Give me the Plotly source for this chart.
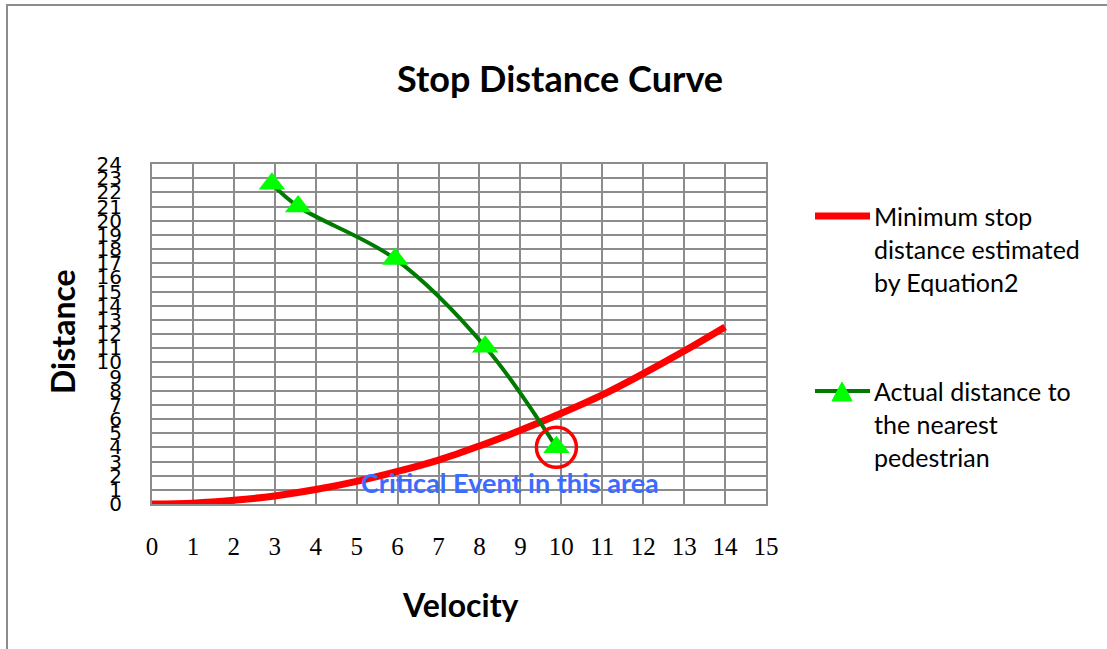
import plotly.graph_objects as go

# ---- data ----
velocity_eq = [0, 1, 2, 3, 4, 5, 6, 7, 8, 9, 10, 11, 12, 13, 14]
stop_dist_eq = [0, 0.06, 0.26, 0.57, 1.02, 1.6, 2.3, 3.1, 4.1, 5.2, 6.4, 7.7, 9.2, 10.8, 12.5]

velocity_act = [2.93, 3.57, 5.94, 8.14, 9.88]
dist_act = [22.6, 21.0, 17.3, 11.1, 4.0]

critical_point = (9.88, 4.0)
x_ticks = list(range(0, 16))
y_ticks = list(range(0, 25))

W, H = 1107, 649
L, R, T, B = 152, 766, 164, 504  # plot area in pixels


def px(x):
    return (x - L) / (R - L)


def py(y):
    return (B - y) / (B - T)


TEXT_FONT = "Lato"

fig = go.Figure()
fig.add_trace(go.Scatter(
    x=velocity_eq, y=stop_dist_eq, mode="lines",
    line=dict(color="#ff0000", width=7, shape="spline"),
    showlegend=False, hoverinfo="skip"))
fig.add_trace(go.Scatter(
    x=velocity_act, y=dist_act, mode="lines+markers",
    line=dict(color="#007a00", width=4, shape="spline"),
    marker=dict(symbol="triangle-up", size=23, color="#00ff00"),
    showlegend=False, hoverinfo="skip"))
fig.add_trace(go.Scatter(
    x=[critical_point[0]], y=[critical_point[1]], mode="markers",
    marker=dict(symbol="circle-open", size=40, color="#ff0000", line=dict(width=3.5, color="#ff0000")),
    showlegend=False, hoverinfo="skip", cliponaxis=False))

fig.add_annotation(x=8.75, y=1.5, xref="x", yref="y", text="<b>Critical Event in this area</b>",
                   xanchor="center", yanchor="middle",
                   showarrow=False, font=dict(family=TEXT_FONT, size=27, color="#3d6bff"))

shapes = []
# outer chart border
shapes.append(dict(type="rect", xref="paper", yref="paper",
                   x0=px(7), x1=px(1110), y0=py(652), y1=py(5),
                   line=dict(color="#8c8c8c", width=2), layer="below"))
# legend symbols
shapes.append(dict(type="line", xref="paper", yref="paper", x0=px(815), x1=px(870),
                   y0=py(216), y1=py(216), line=dict(color="#ff0000", width=7)))
shapes.append(dict(type="line", xref="paper", yref="paper", x0=px(815), x1=px(870),
                   y0=py(391), y1=py(391), line=dict(color="#007a00", width=4)))
tri = "M {} {} L {} {} L {} {} Z".format(px(832), py(401), px(852), py(401), px(842), py(382))
shapes.append(dict(type="path", xref="paper", yref="paper", path=tri,
                   fillcolor="#00ff00", line=dict(color="#00ff00", width=1)))

legend_lines = [
    ("Minimum stop", 216), ("distance estimated", 249), ("by Equation2", 282),
    ("Actual distance to", 391), ("the nearest", 424), ("pedestrian", 457),
]
for txt, yy in legend_lines:
    fig.add_annotation(x=px(872), y=py(yy), xref="paper", yref="paper", text=txt,
                       xanchor="left", yanchor="middle", showarrow=False,
                       font=dict(family=TEXT_FONT, size=25, color="#000000"))

fig.add_annotation(x=px(560), y=py(78), xref="paper", yref="paper", text="<b>Stop Distance Curve</b>",
                   xanchor="center", yanchor="middle",
                   showarrow=False, font=dict(family=TEXT_FONT, size=36, color="#000000"))
fig.add_annotation(x=px(460), y=py(604), xref="paper", yref="paper", text="<b>Velocity</b>",
                   xanchor="center", yanchor="middle",
                   showarrow=False, font=dict(family=TEXT_FONT, size=32, color="#000000"))
fig.add_annotation(x=px(62), y=py(332), xref="paper", yref="paper", text="<b>Distance</b>",
                   xanchor="center", yanchor="middle",
                   showarrow=False, textangle=-90, font=dict(family=TEXT_FONT, size=32, color="#000000"))

fig.update_layout(
    width=W, height=H,
    margin=dict(l=L, r=W - R, t=T, b=H - B),
    paper_bgcolor="white", plot_bgcolor="white",
    shapes=shapes,
    xaxis=dict(range=[0, 15], tickvals=x_ticks, ticktext=[str(v) for v in x_ticks],
               showgrid=True, gridcolor="#8c8c8c", gridwidth=1.5,
               showline=True, linecolor="#8c8c8c", linewidth=2, mirror=True,
               zeroline=False, ticks="", ticklabelstandoff=19,
               tickfont=dict(family="Liberation Serif", size=25, color="#000000")),
    yaxis=dict(range=[0, 24], tickvals=y_ticks, ticktext=[str(v) for v in y_ticks],
               showgrid=True, gridcolor="#8c8c8c", gridwidth=1.5,
               showline=True, linecolor="#8c8c8c", linewidth=2, mirror=True,
               zeroline=False, ticks="", ticklabelstandoff=24,
               tickfont=dict(family="DejaVu Sans", size=20, color="#000000")),
)

fig.write_html("out.html")
